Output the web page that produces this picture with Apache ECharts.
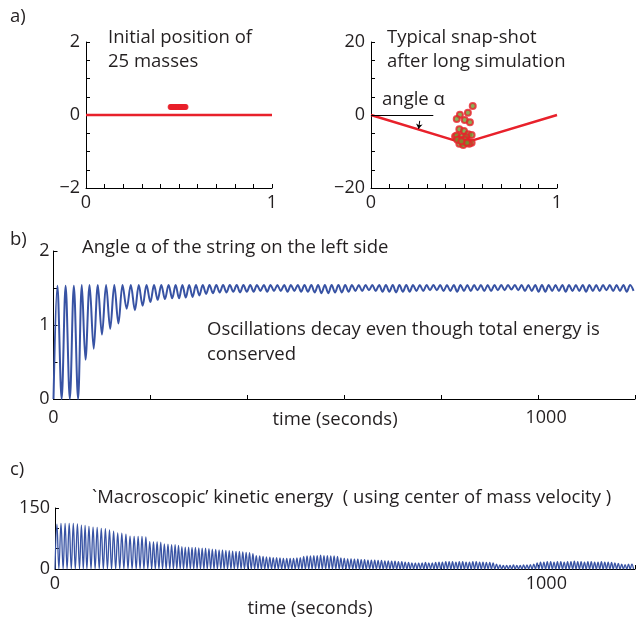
<!DOCTYPE html>
<html><head><meta charset="utf-8">
<script src="https://cdn.jsdelivr.net/npm/echarts@6/dist/echarts.min.js"></script>
<style>html,body{margin:0;padding:0;background:#fff}#c{width:638px;height:621px}</style>
</head><body><div id="c"></div>
<script>
// ---- Panel a (left): initial position of 25 masses ----
const initStringX = [0, 1];
const initStringY = [0, 0];
const initMassX = [0.455,0.458,0.462,0.465,0.468,0.472,0.475,0.478,0.482,0.485,0.488,0.492,0.495,0.498,0.502,0.505,0.508,0.512,0.515,0.518,0.522,0.525,0.528,0.532,0.535];
const initMassY = [0.22,0.22,0.22,0.22,0.22,0.22,0.22,0.22,0.22,0.22,0.22,0.22,0.22,0.22,0.22,0.22,0.22,0.22,0.22,0.22,0.22,0.22,0.22,0.22,0.22];
// ---- Panel a (right): snapshot after long simulation ----
const snapStringX = [0, 0.497, 1];
const snapStringY = [0, -7.7, 0];
const snapMassX = [0.547,0.521,0.478,0.461,0.504,0.532,0.475,0.50,0.523,0.541,0.452,0.461,0.488,0.511,0.478,0.505,0.523,0.493,0.541,0.475,0.496,0.528,0.516,0.464,0.486];
const snapMassY = [2.5,0.6,0.1,-1.1,-1.4,-2.0,-3.9,-4.4,-5.3,-5.5,-5.9,-5.6,-5.9,-6.1,-6.8,-6.8,-7.3,-7.6,-7.6,-7.9,-8.2,-7.9,-7.6,-6.8,-7.2];
// ---- Panel b: angle alpha at its turning points (time in s) ----
const turnTimes = [0,8,16.8,25,33.7,42,50.7,58.5,66,74.5,83,91.5,100,108.5,117,125.5,134,142.5,151,159.5,168,176,184,192,200,207.5,215,222.5,230,237.5,245,252,259,266,273,280,287,294,301,308,315,322,329,
336,343,350,357,364,371,378,385,392,399,406,413,420,427,434,441,448,455,462,469,476,483,490,497,504,511,518,525,532,539,546,553,560,567,574,581,588,595,602,609,616,623,630,637,644,651,658,665,672,679,686,693,700,707,714,721,728,735,742,749,756,763,770,777,784,791,798,805,812,819,826,833,840,847,854,861,868,875,882,889,896,903,910,917,924,931,938,945,952,959,966,973,980,987,994,1001,1008,1015,1022,1029,1036,1043,1050,1057,1064,1071,1078,1085,1092,1099,1106,1113,1120,1127,1134,1141,1148,1155,1162,1169,1176,1183,1190,1197];
const angleValues = [0,1.53,0,1.53,0,1.53,0,1.54,0.53,1.54,0.68,1.54,0.87,1.54,0.95,1.54,1.02,1.54,1.22,1.54,1.20,1.54,1.26,1.54,1.31,1.54,1.34,1.54,1.35,1.54,1.36,1.54,1.36,1.54,1.37,1.54,1.38,1.54,1.40,1.54,1.42,1.54,1.43,
1.54,1.44,1.54,1.44,1.54,1.45,1.54,1.44,1.54,1.45,1.54,1.45,1.54,1.46,1.54,1.45,1.54,1.46,1.54,1.46,1.54,1.45,1.54,1.46,1.54,1.45,1.54,1.45,1.54,1.44,1.54,1.43,1.54,1.43,1.54,1.44,1.54,1.44,1.54,1.45,1.54,1.46,1.54,1.46,1.54,1.47,1.54,1.46,1.54,1.45,1.54,1.45,1.54,1.44,1.54,1.45,1.54,1.45,1.54,1.46,1.54,1.46,1.54,1.47,1.54,1.47,1.54,1.46,1.54,1.46,1.54,1.45,1.54,1.46,1.54,1.46,1.54,1.47,1.54,1.46,1.54,1.46,1.54,1.47,1.54,1.47,1.54,1.48,1.54,1.47,1.54,1.46,1.54,1.46,1.54,1.45,1.54,1.45,1.54,1.46,1.54,1.46,1.54,1.45,1.54,1.46,1.54,1.46,1.54,1.45,1.54,1.46,1.54,1.46,1.54,1.47,1.54,1.46,1.54,1.46,1.54,1.45,1.54,1.46];
// ---- Panel c: macroscopic kinetic energy, peak of each swing (zero at each turning point) ----
const keSwingPeaks = [110,112,112,112,112,111,108,107,105,103,102,100,99,96,93,89,88,86,81,80,
80,80,79,68,67,67,66,62,61,60,60,58,55,54,54,53,53,52,51,51,
50,49,48,47,47,46,45,44,43,43,42,41,40,38,33,32,31,30,29,28,
28,27,26,26,26,26,27,28,31,32,32,33,33,34,33,33,32,32,31,27,
26,25,25,24,24,23,23,22,22,22,21,21,20,20,19,19,18,18,17,16,
15,15,15,15,16,15,15,16,17,17,18,18,18,17,18,18,17,17,18,18,
17,17,16,16,15,12,10,9,9,9,10,9,9,10,10,11,12,15,17,17,
18,18,17,18,18,17,18,18,19,18,18,17,18,18,17,17,18,17,17,16,
15,14,12,11,12,12];
// ---- tick labels ----
const aLeftYLabels = {'2':'2','0':'0','-2':'\u22122'};
const aRightYLabels = {'20':'20','0':'0','-20':'\u221220'};
const aXLabels = {'0':'0','1':'1'};
const timeLabels = {'0':'0','1000':'{r|1000}'};
const bYLabels = {'0':'0','1':'1','2':'2'};
const cYLabels = {'0':'0','150':'150'};

const FONT = 'Open Sans';
const TXT = '#231f20';
const RED = '#e8212b';
const BLUE = '#3853a4';

function pick(map){ return v => { const k = String(Math.round(v*1000)/1000); return map[k] !== undefined ? map[k] : ''; }; }
function xAx(grid, min, max, interval, labels, margin){
  return {type:'value', gridIndex:grid, min, max, interval,
    axisLine:{show:true, onZero:false, lineStyle:{color:'#000', width:1}},
    axisTick:{show:true, inside:true, length:4, lineStyle:{color:'#000'}},
    splitLine:{show:false},
    axisLabel:{show:true, formatter:pick(labels), color:TXT, fontFamily:FONT, fontSize:18, margin, showMinLabel:true, showMaxLabel:true,
      rich:{r:{fontFamily:FONT, fontSize:18, color:TXT, padding:[0,0,0,16]}}}};
}
function yAx(grid, min, max, interval, labels, margin){
  return {type:'value', gridIndex:grid, min, max, interval,
    axisLine:{show:true, onZero:false, lineStyle:{color:'#000', width:1}},
    axisTick:{show:true, inside:true, length:4, lineStyle:{color:'#000'}},
    splitLine:{show:false},
    axisLabel:{show:true, formatter:pick(labels), color:TXT, fontFamily:FONT, fontSize:18, margin, showMinLabel:true, showMaxLabel:true}};
}

const angleData = turnTimes.map((t,i)=>[t, angleValues[i]]);
const keData = [];
for (let i=0;i<turnTimes.length;i++){
  keData.push([turnTimes[i], 0]);
  if (i < keSwingPeaks.length) keData.push([(turnTimes[i]+turnTimes[i+1])/2, keSwingPeaks[i]]);
}

const chart = echarts.init(document.getElementById('c'), null, {renderer:'canvas'});
const txt = (text, x, y, size, align) => ({type:'text', x, y, style:{text, font:`${size||18.5}px "${FONT}"`, fill:TXT, textAlign:align||'left', textVerticalAlign:'middle'}, silent:true});

chart.setOption({
  animation:false,
  backgroundColor:'#fff',
  grid:[
    {left:86, top:42, width:186, height:146},
    {left:371, top:42, width:186, height:146},
    {left:53.5, top:251, width:586.5, height:148},
    {left:55, top:508, width:584.5, height:61}
  ],
  xAxis:[
    xAx(0,0,1,0.1,aXLabels,6),
    xAx(1,0,1,0.1,aXLabels,6),
    xAx(2,0,1200,200,timeLabels,10),
    xAx(3,0,1200,200,timeLabels,6)
  ],
  yAxis:[
    yAx(0,-2,2,0.5,aLeftYLabels,6),
    yAx(1,-20,20,5,aRightYLabels,6),
    yAx(2,0,2,0.5,bYLabels,4),
    yAx(3,0,150,50,cYLabels,5)
  ],
  series:[
    {type:'line', xAxisIndex:0, yAxisIndex:0, data:initStringX.map((x,i)=>[x,initStringY[i]]), showSymbol:false, lineStyle:{color:RED, width:2.5}, z:2},
    {type:'scatter', xAxisIndex:0, yAxisIndex:0, data:initMassX.map((x,i)=>[x,initMassY[i]]), symbolSize:6, itemStyle:{color:RED}, z:3},
    {type:'line', xAxisIndex:1, yAxisIndex:1, data:snapStringX.map((x,i)=>[x,snapStringY[i]]), showSymbol:false, lineStyle:{color:RED, width:2.5}, z:2,
      markLine:{silent:true, symbol:['none','none'], label:{show:false}, lineStyle:{color:'#000', width:1, type:'solid'},
        data:[[{coord:[0,0]},{coord:[0.335,0]}]]}},
    {type:'scatter', xAxisIndex:1, yAxisIndex:1, data:[[0.262,-1.6]], symbolSize:0, z:1,
      markLine:{silent:true, symbol:['none','arrow'], symbolSize:5, label:{show:false}, lineStyle:{color:'#000', width:1, type:'solid'},
        data:[[{coord:[0.262,-1.6]},{coord:[0.256,-3.8]}]]}},
    {type:'scatter', xAxisIndex:1, yAxisIndex:1, data:snapMassX.map((x,i)=>[x,snapMassY[i]]), symbolSize:6, itemStyle:{color:'#6f9a2e', borderColor:RED, borderWidth:2}, z:3},
    {type:'line', xAxisIndex:2, yAxisIndex:2, data:angleData, showSymbol:false, smooth:0.35, lineStyle:{color:BLUE, width:2}, clip:true},
    {type:'line', xAxisIndex:3, yAxisIndex:3, data:keData, showSymbol:false, smooth:0.4, lineStyle:{color:BLUE, width:1.3}, clip:true}
  ],
  graphic:[
    txt('a)', 10, 17),
    txt('Initial position of', 108, 38),
    txt('25 masses', 108, 62),
    txt('Typical snap-shot', 387, 38),
    txt('after long simulation', 387, 62),
    txt('angle \u03b1', 382, 100),
    txt('b)', 10, 240),
    txt('Angle \u03b1 of the string on the left side', 82, 248),
    txt('Oscillations decay even though total energy is', 207, 330),
    txt('conserved', 207, 355),
    txt('time (seconds)', 335, 420, 18.5, 'center'),
    txt('c)', 10, 470),
    txt('`Macroscopic\u2019 kinetic energy  ( using center of mass velocity )', 92, 498),
    txt('time (seconds)', 310, 609, 18.5, 'center')
  ]
});
</script></body></html>
